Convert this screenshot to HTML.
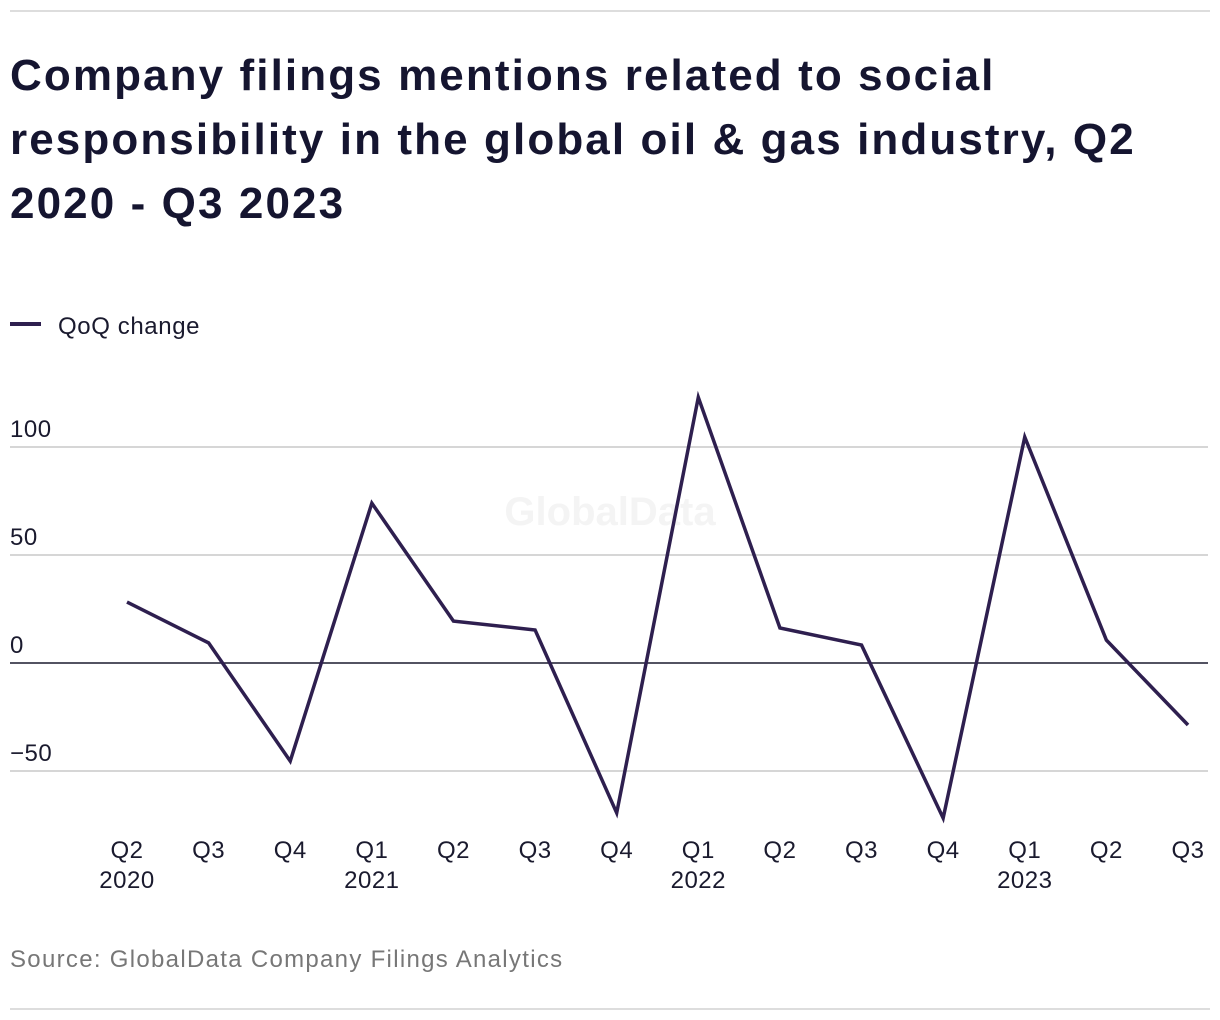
<!DOCTYPE html>
<html><head><meta charset="utf-8"><style>
body{margin:0;width:1220px;height:1020px;background:#fff;font-family:"Liberation Sans",sans-serif;color:#1a1a2e;position:relative;overflow:hidden}
.rule{position:absolute;left:10px;width:1200px;height:2px;background:#ddd}
h1{position:absolute;left:10px;top:44px;width:1200px;margin:0;font-size:44px;line-height:64px;font-weight:bold;color:#151530;letter-spacing:2.1px;white-space:nowrap}
.src{position:absolute;left:10px;top:946px;font-size:24px;color:#777;letter-spacing:1.3px}
</style></head><body>
<div class="rule" style="top:10px"></div>
<h1>Company filings mentions related to social<br>responsibility in the global oil &amp; gas industry, Q2<br>2020 - Q3 2023</h1>
<svg id="c" width="1220" height="1020" style="position:absolute;left:0;top:0">
<g><line x1="10" y1="324" x2="41" y2="324" stroke="#2e1f4f" stroke-width="4"/><text x="58" y="334" font-size="24" fill="#1a1a2e" font-family="Liberation Sans" letter-spacing="0.6">QoQ change</text></g>
<text x="610" y="525" font-size="40" font-weight="bold" fill="#f4f4f4" text-anchor="middle" font-family="Liberation Sans">GlobalData</text>
</svg>
<div class="src">Source: GlobalData Company Filings Analytics</div>
<div class="rule" style="top:1008px"></div>
<script>
const quarters=["Q2","Q3","Q4","Q1","Q2","Q3","Q4","Q1","Q2","Q3","Q4","Q1","Q2","Q3"];
const years=["2020","","","2021","","","","2022","","","","2023","",""];
const values=[28.2,9.3,-45.4,74,19.4,15.3,-69.4,123,16.2,8.3,-71.8,104.6,10.6,-28.7];
const yTicks=[-50,0,50,100];
const yTickLabels=["\u221250","0","50","100"];
const svg=document.getElementById('c');
const NS="http://www.w3.org/2000/svg";
const y=v=>663-v*2.16;
const x=i=>127+i*(1188-127)/(quarters.length-1);
function mk(t,a){const e=document.createElementNS(NS,t);for(const k in a)e.setAttribute(k,a[k]);svg.appendChild(e);return e;}
yTicks.forEach((t,i)=>{
 const l=mk('line',{x1:10,x2:1208,y1:y(t),y2:y(t),stroke:t===0?'#1a1a2e':'#d6d6d6','stroke-width':t===0?1.5:2});
 
 
 const tx=mk('text',{x:10,y:y(t)-10,'font-size':24,fill:'#1a1a2e','font-family':'Liberation Sans','letter-spacing':0.5});
 tx.textContent=yTickLabels[i];
 
 
});
quarters.forEach((q,i)=>{
 const t=mk('text',{x:x(i),y:858,'font-size':24,fill:'#1a1a2e','text-anchor':'middle','font-family':'Liberation Sans','letter-spacing':0.5});
 t.textContent=q;
 
 
 if(years[i]){const t2=mk('text',{x:x(i),y:888,'font-size':24,fill:'#1a1a2e','text-anchor':'middle','font-family':'Liberation Sans','letter-spacing':0.5});
 t2.textContent=years[i];
 
 }
});
const p=mk('polyline',{points:values.map((v,i)=>x(i)+','+y(v)).join(' '),fill:'none',stroke:'#2e1f4f','stroke-width':3.5,'stroke-linejoin':'miter'});


</script>
</body></html>
